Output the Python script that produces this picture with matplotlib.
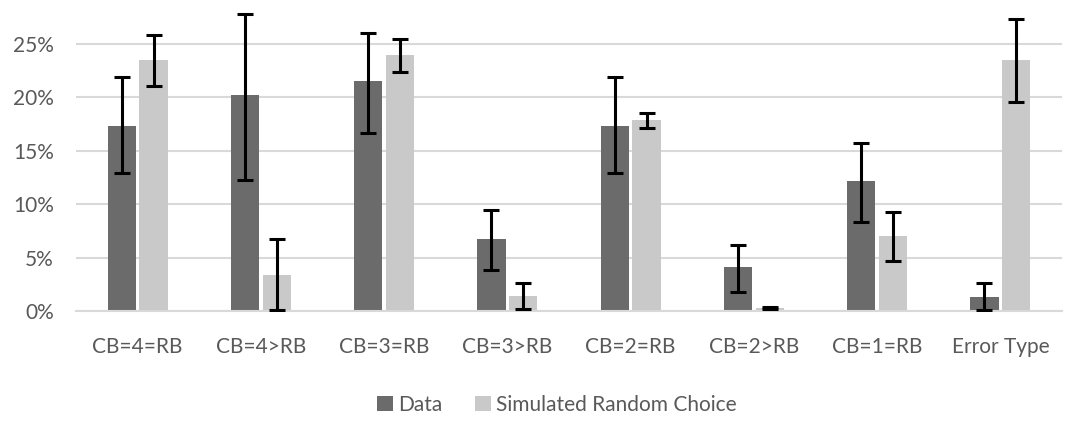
import numpy as np
import matplotlib.pyplot as plt
from matplotlib.ticker import PercentFormatter

plt.rcParams['font.family'] = ['Lato', 'DejaVu Sans']

categories = ['CB=4=RB', 'CB=4>RB', 'CB=3=RB', 'CB=3>RB', 'CB=2=RB', 'CB=2>RB', 'CB=1=RB', 'Error Type']
data = [17.3, 20.2, 21.5, 6.7, 17.3, 4.15, 12.2, 1.35]
data_lo = [12.9, 12.3, 16.7, 3.8, 12.9, 1.8, 8.3, 0.1]
data_hi = [21.9, 27.8, 26.0, 9.5, 21.9, 6.15, 15.7, 2.6]
sim = [23.5, 3.4, 24.0, 1.4, 17.9, 0.3, 7.0, 23.5]
sim_lo = [21.1, 0.1, 22.4, 0.2, 17.1, 0.2, 4.65, 19.6]
sim_hi = [25.8, 6.7, 25.5, 2.6, 18.5, 0.4, 9.3, 27.3]

dark = '#6b6b6b'
light = '#c9c9c9'
txt = '#595959'

fig = plt.figure(figsize=(10.78, 4.21), dpi=100)
ax = fig.add_axes([76/1078, 1-311/421, (1062-76)/1078, (311-6.6)/421])

x = np.arange(len(categories))
w = 0.23
off = w/2 + 0.014
d = np.array(data)
s = np.array(sim)
ax.bar(x - off, d, w, color=dark, label='Data', zorder=2)
ax.bar(x + off, s, w, color=light, label='Simulated Random Choice', zorder=2)
ax.errorbar(x - off, d, yerr=[d - np.array(data_lo), np.array(data_hi) - d],
            fmt='none', ecolor='black', elinewidth=2.2, capsize=5.5, capthick=2.2, zorder=3)
ax.errorbar(x + off, s, yerr=[s - np.array(sim_lo), np.array(sim_hi) - s],
            fmt='none', ecolor='black', elinewidth=2.2, capsize=5.5, capthick=2.2, zorder=3)

ax.set_xlim(-0.5, len(categories) - 0.5)
ax.set_ylim(0, 28.5)
ax.set_yticks([0, 5, 10, 15, 20, 25])
ax.yaxis.set_major_formatter(PercentFormatter(decimals=0))
ax.grid(axis='y', color='#d9d9d9', linewidth=1.5, zorder=0)
ax.set_axisbelow(True)
for sp in ['top', 'right', 'left']:
    ax.spines[sp].set_visible(False)
ax.spines['bottom'].set_color('#d9d9d9')
ax.spines['bottom'].set_linewidth(1.5)
ax.tick_params(axis='both', length=0, labelsize=15, colors=txt)
ax.tick_params(axis='x', pad=19)
ax.tick_params(axis='y', pad=16)
ax.set_xticks(x)
ax.set_xticklabels(categories)

fig.legend(loc='center', bbox_to_anchor=(557/1078, 1-405/421), ncol=2, frameon=False,
           fontsize=15, labelcolor=txt, handlelength=0.75, handleheight=0.75,
           handletextpad=0.25, columnspacing=1.6, borderpad=0)

plt.savefig('out.png', dpi=100)
